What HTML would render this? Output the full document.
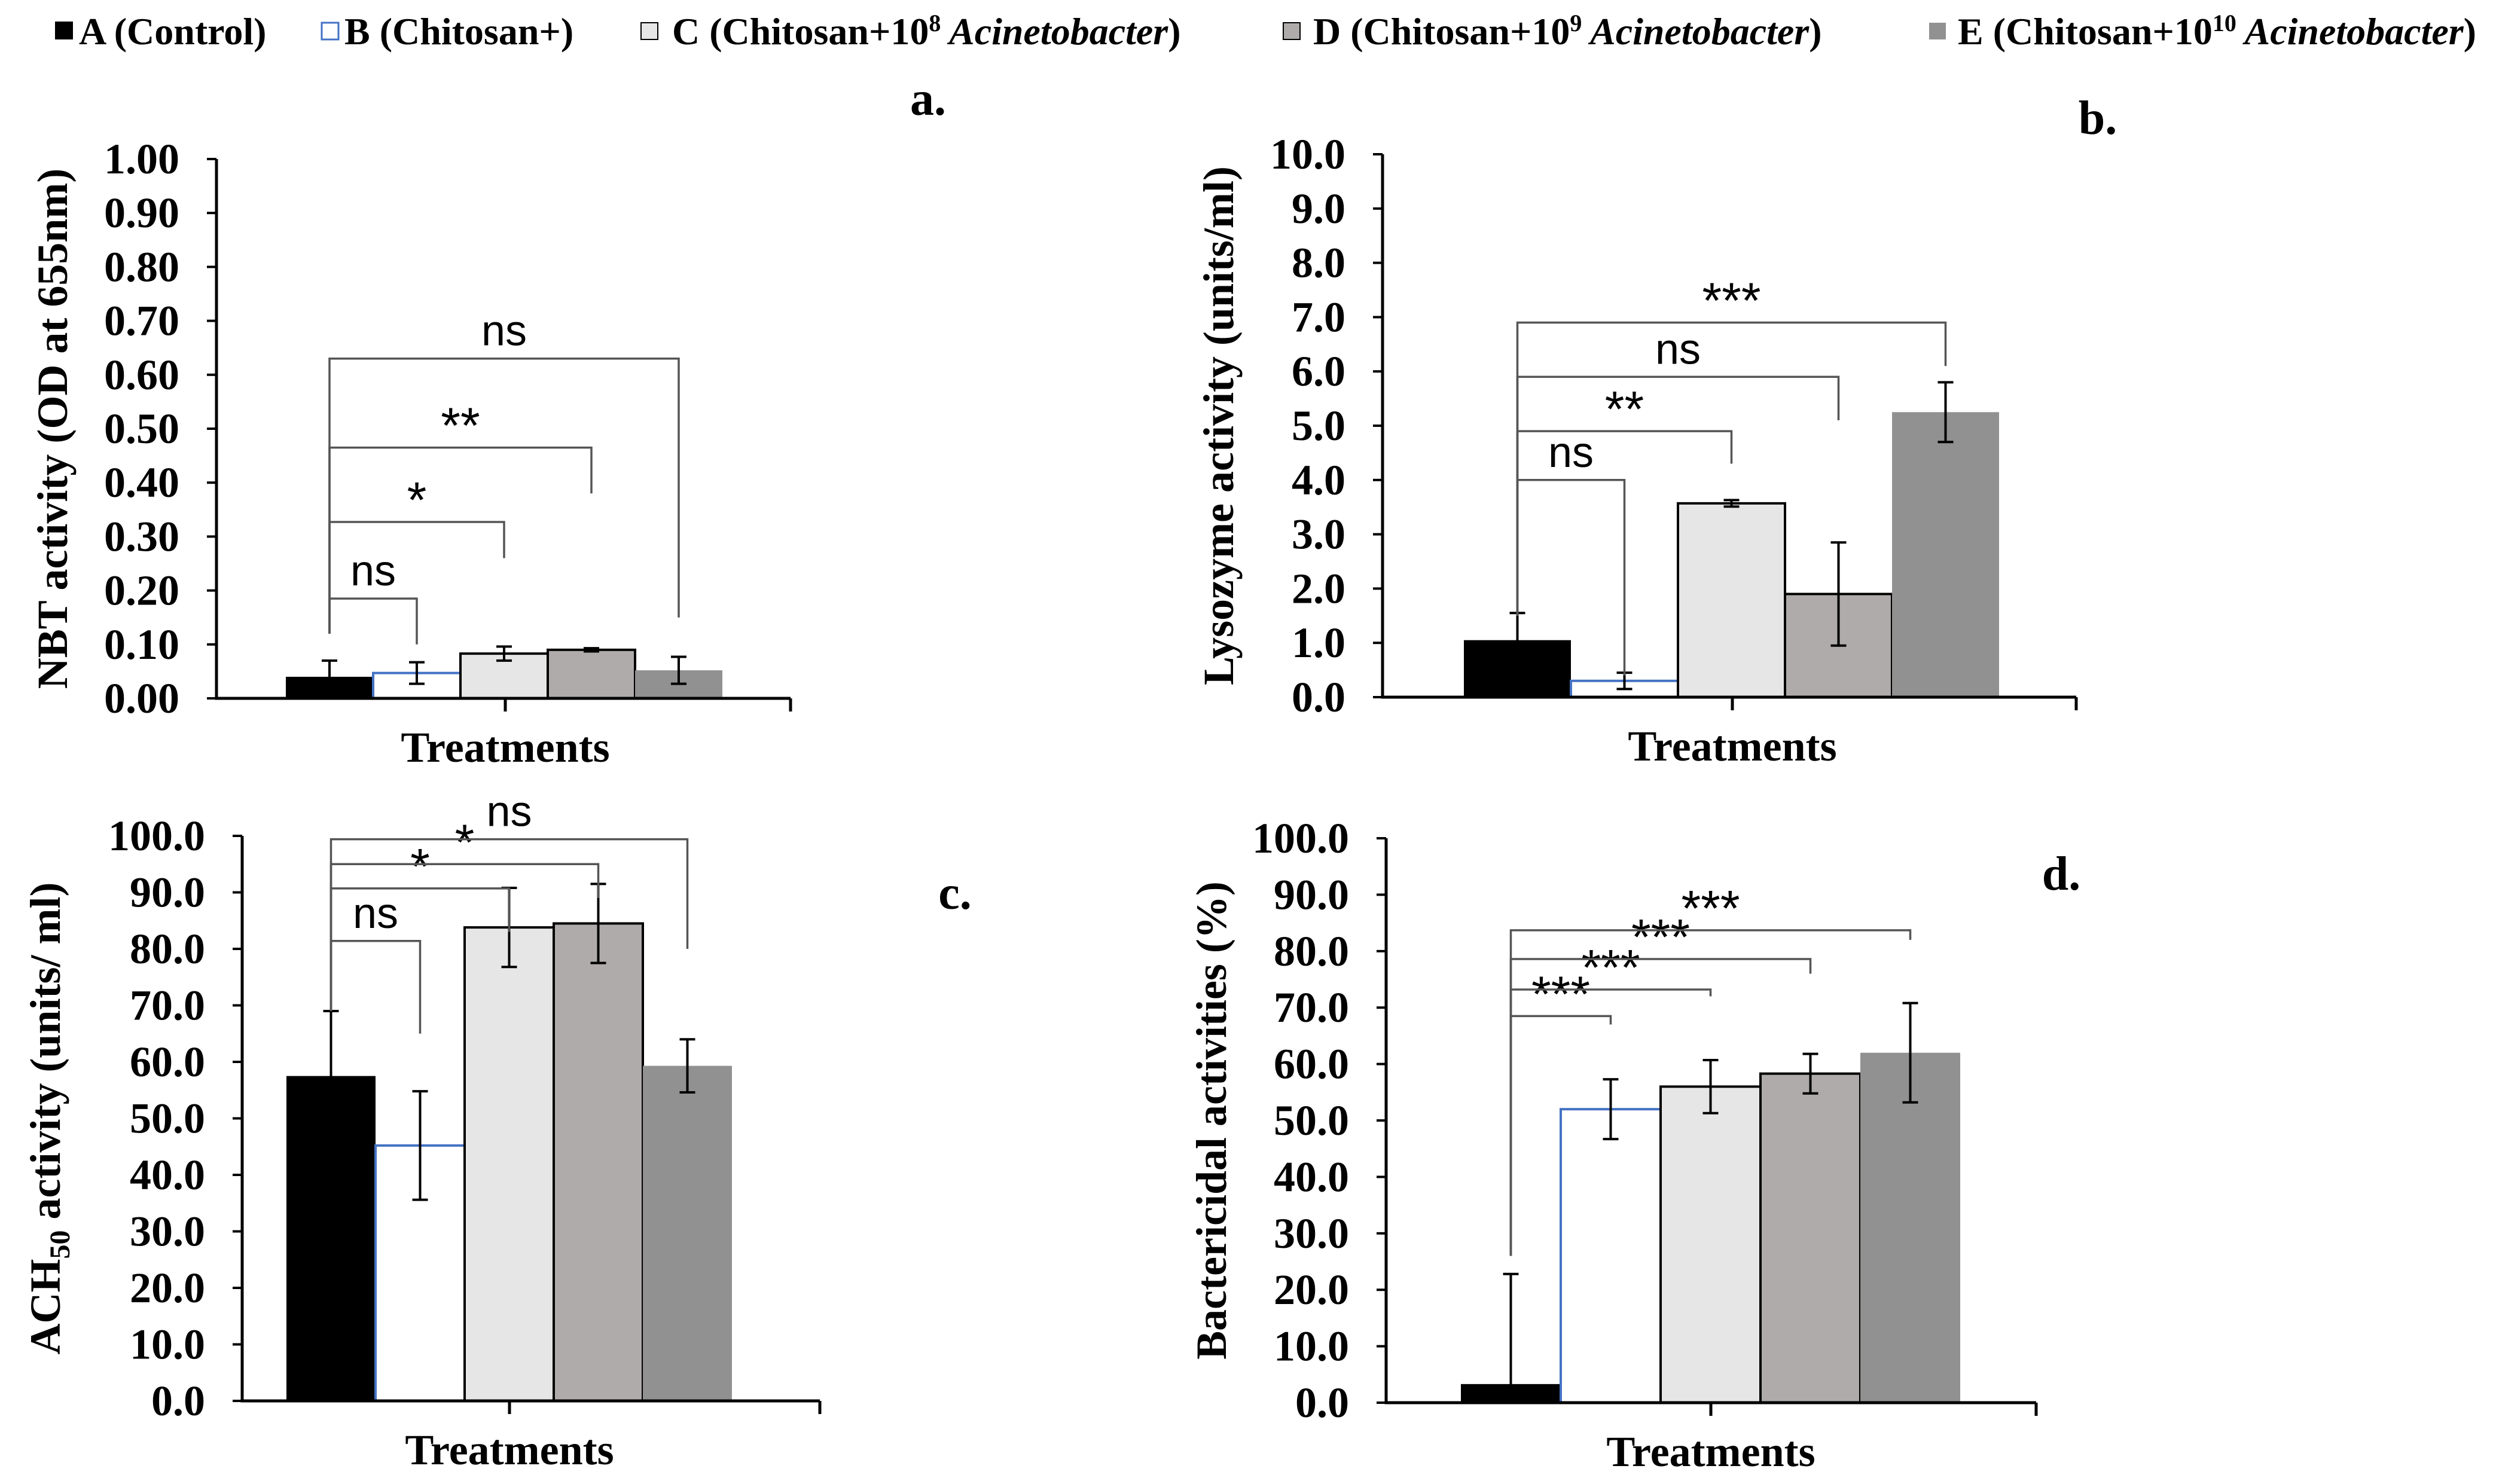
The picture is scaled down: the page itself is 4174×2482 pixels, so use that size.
<!DOCTYPE html>
<html><head><meta charset="utf-8">
<style>
html,body{margin:0;padding:0;background:#fff;}
svg{display:block;}
text{font-family:"Liberation Serif",serif;font-weight:bold;fill:#000;}
.sig{font-family:"Liberation Sans",sans-serif;font-weight:normal;}
</style></head>
<body>
<svg id="chart" width="4174" height="2482" viewBox="0 0 4174 2482" xmlns="http://www.w3.org/2000/svg">
<g id="legend">
  <g>
    <rect x="92" y="36" width="30" height="30" fill="#000"/>
    <text x="132" y="74" font-size="64">A (Control)</text>
  </g>
  <g>
    <rect x="538" y="38" width="28" height="28" fill="#fff" stroke="#4472c4" stroke-width="3"/>
    <text x="576" y="74" font-size="64">B (Chitosan+)</text>
  </g>
  <g>
    <rect x="1072" y="38" width="28" height="28" fill="#e6e6e6" stroke="#000" stroke-width="2"/>
    <text x="1124" y="74" font-size="64">C (Chitosan+10<tspan font-size="40" dy="-22">8</tspan><tspan dy="22" font-style="italic"> Acinetobacter</tspan>)</text>
  </g>
  <g>
    <rect x="2146" y="38" width="28" height="28" fill="#afabab" stroke="#000" stroke-width="2"/>
    <text x="2196" y="74" font-size="64">D (Chitosan+10<tspan font-size="40" dy="-22">9</tspan><tspan dy="22" font-style="italic"> Acinetobacter</tspan>)</text>
  </g>
  <g>
    <rect x="3226" y="38" width="28" height="28" fill="#919191"/>
    <text x="3274" y="74" font-size="64">E (Chitosan+10<tspan font-size="40" dy="-22">10</tspan><tspan dy="22" font-style="italic"> Acinetobacter</tspan>)</text>
  </g>
</g>
<text x="1552" y="192" font-size="80" text-anchor="middle">a.</text>
<text x="3508" y="224" font-size="80" text-anchor="middle">b.</text>
<text x="1597" y="1520" font-size="80" text-anchor="middle">c.</text>
<text x="3447" y="1488" font-size="80" text-anchor="middle">d.</text>
</svg>
<script>
// ---- data ----
const groups = ["A","B","C","D","E"];
const ticksA = ["0.00","0.10","0.20","0.30","0.40","0.50","0.60","0.70","0.80","0.90","1.00"];
const ticksB = ["0.0","1.0","2.0","3.0","4.0","5.0","6.0","7.0","8.0","9.0","10.0"];
const ticksC = ["0.0","10.0","20.0","30.0","40.0","50.0","60.0","70.0","80.0","90.0","100.0"];
const ticksD = ["0.0","10.0","20.0","30.0","40.0","50.0","60.0","70.0","80.0","90.0","100.0"];
const valuesA = [0.040, 0.047, 0.083, 0.090, 0.052];
const errorsA = [0.030, 0.020, 0.013, 0.003, 0.025];
const valuesB = [1.05, 0.30, 3.57, 1.90, 5.25];
const errorsB = [0.50, 0.15, 0.06, 0.95, 0.55];
const valuesC = [57.5, 45.2, 83.8, 84.5, 59.3];
const errorsC = [11.5, 9.6, 7.0, 7.0, 4.7];
const valuesD = [3.3, 52.0, 56.0, 58.3, 62.0];
const errorsD = [19.5, 5.3, 4.7, 3.5, 8.8];
const sigLabelsA = ["ns","*","**","ns"];
const sigLevelsA = [0.185, 0.327, 0.465, 0.63];
const sigTargetsA = [1, 2, 3, 4];
const sigLegsA = [0.10, 0.26, 0.38, 0.15];
const sigLabelsB = ["ns","**","ns","***"];
const sigLevelsB = [4.0, 4.9, 5.9, 6.9];
const sigTargetsB = [1, 2, 3, 4];
const sigLegsB = [0.4, 4.3, 5.1, 6.1];
const sigLabelsC = ["ns","*","*","ns"];
const sigLevelsC = [81.4, 90.7, 95, 99.4];
const sigTargetsC = [1, 2, 3, 4];
const sigLegsC = [65, 83, 89, 80];
const sigLabelsD = ["***","***","***","***"];
const sigLevelsD = [68.5, 73.2, 78.6, 83.7];
const sigTargetsD = [1, 2, 3, 4];
const sigLegsD = [67, 72, 76, 82];

const NS = "http://www.w3.org/2000/svg";
const svg = document.getElementById("chart");
function mk(tag, attrs, parent){
  const e = document.createElementNS(NS, tag);
  for (const k in attrs) e.setAttribute(k, attrs[k]);
  (parent||svg).appendChild(e);
  return e;
}
const fills = ["#000000","#ffffff","#e6e6e6","#afabab","#919191"];

function panel(cfg){
  const g = mk("g", {});
  
  
  const yMax = cfg.max;
  const y = v => cfg.y0 - (v / yMax) * (cfg.y0 - cfg.y1);
  const bx = i => cfg.barX0 + i * cfg.barW;
  const cx = i => bx(i) + cfg.barW / 2;
  cfg.values.forEach((v, i) => {
    const top = y(v), h = cfg.y0 - top;
    if (i === 1) {
      const r = mk("rect", {x: bx(i), y: top, width: cfg.barW, height: h, fill: "#fff"}, g);
      
      
      const p = mk("path", {d: `M${bx(i)} ${cfg.y0} L${bx(i)} ${top} L${bx(i)+cfg.barW} ${top}`, fill: "none", stroke: "#4472c4", "stroke-width": 4}, g);
      
      
    } else {
      const attrs = {x: bx(i), y: top, width: cfg.barW, height: h, fill: fills[i]};
      if (i === 2 || i === 3) { attrs.stroke = "#000"; attrs["stroke-width"] = 4; }
      const r = mk("rect", attrs, g);
      
      
    }
  });
  cfg.values.forEach((v, i) => {
    const e = cfg.errors[i];
    const x = cx(i);
    const yt = y(v + e), yb = y(Math.max(0, v - e));
    const p = mk("path", {d: `M${x} ${yt} L${x} ${yb} M${x-13} ${yt} L${x+13} ${yt} M${x-13} ${yb} L${x+13} ${yb}`, stroke: "#000", "stroke-width": 4, fill: "none"}, g);
    
    
  });
  const leftX = cx(0);
  cfg.sigLabels.forEach((lab, k) => {
    const t = cfg.sigTargets[k];
    const ly = y(cfg.sigLevels[k]);
    const rx = cx(t);
    const p = mk("path", {d: `M${leftX} ${y(cfg.leftLeg)} L${leftX} ${ly} L${rx} ${ly} L${rx} ${y(cfg.sigLegs[k])}`, stroke: "#555", "stroke-width": 3.5, fill: "none"}, g);
    
    
    const star = lab.indexOf("*") >= 0;
    const tx = mk("text", {x: (leftX + rx) / 2, y: ly - (star ? 8 : 22), "font-size": star ? 84 : 72, "text-anchor": "middle", class: "sig"}, g);
    tx.textContent = lab;
    
    
  });
  const ax = mk("path", {d: `M${cfg.x0} ${cfg.y1} L${cfg.x0} ${cfg.y0} L${cfg.xEnd} ${cfg.y0} M${cfg.xEnd} ${cfg.y0} L${cfg.xEnd} ${cfg.y0+22} M${cfg.tickX} ${cfg.y0} L${cfg.tickX} ${cfg.y0+22}`, stroke: "#000", "stroke-width": 5, fill: "none"}, g);
  
  
  cfg.ticks.forEach((tl, k) => {
    const v = parseFloat(tl);
    const ty = y(v);
    const tm = mk("line", {x1: cfg.x0 - 16, x2: cfg.x0, y1: ty, y2: ty, stroke: "#000", "stroke-width": 4}, g);
    
    
    const t = mk("text", {x: cfg.x0 - 62, y: ty + 24, "font-size": 72, "text-anchor": "end"}, g);
    t.textContent = tl;
    
    
  });
  const xt = mk("text", {x: cfg.tickX, y: cfg.y0 + 106, "font-size": 72, "text-anchor": "middle"}, g);
  xt.textContent = "Treatments";
  
  
  const yt = mk("text", {x: 0, y: 0, "font-size": 72, "text-anchor": "middle", transform: `translate(${cfg.titleX},${(cfg.y0+cfg.y1)/2}) rotate(-90)`}, g);
  if (cfg.ach) {
    yt.appendChild(document.createTextNode("ACH"));
    const s = mk("tspan", {"font-size": 48, dy: 16}, yt);
    s.textContent = "50";
    const r = mk("tspan", {dy: -16}, yt);
    r.textContent = "  activity (units/ ml)";
  } else {
    yt.textContent = cfg.title;
  }
  
  
}

panel({name: "panel-a-nbt", max: 1, x0: 362, y0: 1168, y1: 266, xEnd: 1322, tickX: 845, barX0: 478, barW: 146,
  values: valuesA, errors: errorsA, ticks: ticksA, sigLabels: sigLabelsA, sigLevels: sigLevelsA, sigTargets: sigTargetsA, sigLegs: sigLegsA,
  leftLeg: 0.12, titleX: 112, title: "NBT activity (OD at 655nm)"});
panel({name: "panel-b-lysozyme", max: 10, x0: 2312, y0: 1166, y1: 258, xEnd: 3472, tickX: 2897, barX0: 2448, barW: 179,
  values: valuesB, errors: errorsB, ticks: ticksB, sigLabels: sigLabelsB, sigLevels: sigLevelsB, sigTargets: sigTargetsB, sigLegs: sigLegsB,
  leftLeg: 1.5, titleX: 2062, title: "Lysozyme activity (units/ml)"});
panel({name: "panel-c-ach50", max: 100, x0: 405, y0: 2343, y1: 1398, xEnd: 1371, tickX: 852, barX0: 479, barW: 149,
  values: valuesC, errors: errorsC, ticks: ticksC, sigLabels: sigLabelsC, sigLevels: sigLevelsC, sigTargets: sigTargetsC, sigLegs: sigLegsC,
  leftLeg: 69, titleX: 100, ach: true});
panel({name: "panel-d-bactericidal", max: 100, x0: 2318, y0: 2346, y1: 1402, xEnd: 3405, tickX: 2861, barX0: 2443, barW: 167,
  values: valuesD, errors: errorsD, ticks: ticksD, sigLabels: sigLabelsD, sigLevels: sigLevelsD, sigTargets: sigTargetsD, sigLegs: sigLegsD,
  leftLeg: 26, titleX: 2050, title: "Bactericidal activities (%)"});
</script>
</body></html>
